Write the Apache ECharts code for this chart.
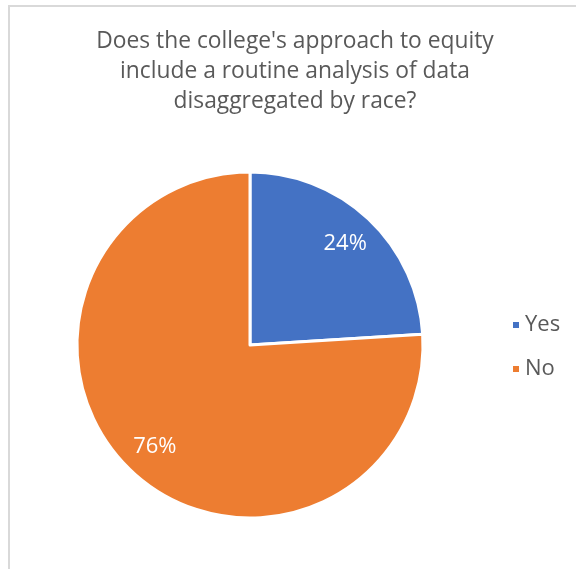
<!DOCTYPE html>
<html>
<head>
<meta charset="utf-8">
<script src="https://cdn.jsdelivr.net/npm/echarts@6/dist/echarts.min.js"></script>
<style>
  html, body { margin: 0; padding: 0; background: #fff; }
  #chart { width: 576px; height: 569px; }
</style>
</head>
<body>
<div id="chart"></div>
<script>
// 数据
const categories = ['Yes', 'No'];
const values = [24, 76];
const colors = ['#4472C4', '#ED7D31'];
const titleText = "Does the college's approach to equity\ninclude a routine analysis of data\ndisaggregated by race?";

const pieData = categories.map(function (name, i) {
    return { name: name, value: values[i], itemStyle: { color: colors[i] } };
});

const chart = echarts.init(document.getElementById('chart'));

const option = {
    animation: false,
    title: {
        text: titleText,
        left: 290,
        top: 22,
        textAlign: 'center',
        textStyle: {
            fontFamily: 'Open Sans',
            fontSize: 22.8,
            fontWeight: 'normal',
            color: '#595959',
            lineHeight: 30
        }
    },
    legend: {
        orient: 'vertical',
        left: 506,
        top: 308,
        itemWidth: 8,
        itemHeight: 8,
        itemGap: 20,
        icon: 'rect',
        data: categories,
        textStyle: {
            fontFamily: 'Open Sans',
            fontSize: 22,
            color: '#595959',
            lineHeight: 24
        }
    },
    graphic: [{
        type: 'rect',
        silent: true,
        shape: { x: 9, y: 6, width: 700, height: 700 },
        style: { fill: 'none', stroke: '#d9d9d9', lineWidth: 2 }
    }],
    series: [
        {
            type: 'pie',
            center: [250, 345],
            radius: [0, 173],
            startAngle: 90,
            clockwise: true,
            label: { show: false },
            labelLine: { show: false },
            itemStyle: { borderColor: '#fff', borderWidth: 3 },
            emphasis: { disabled: true },
            data: pieData
        },
        {
            // 只负责标签位置
            type: 'pie',
            silent: true,
            center: [250, 345],
            radius: [100, 172],
            startAngle: 90,
            clockwise: true,
            itemStyle: { color: 'transparent', borderWidth: 0 },
            label: {
                show: true,
                position: 'inside',
                formatter: '{d}%',
                fontFamily: 'Open Sans',
                fontSize: 22,
                color: '#fff'
            },
            labelLine: { show: false },
            emphasis: { disabled: true },
            data: categories.map(function (name, i) {
                return { name: name, value: values[i] };
            })
        }
    ]
};

chart.setOption(option);
</script>
</body>
</html>
